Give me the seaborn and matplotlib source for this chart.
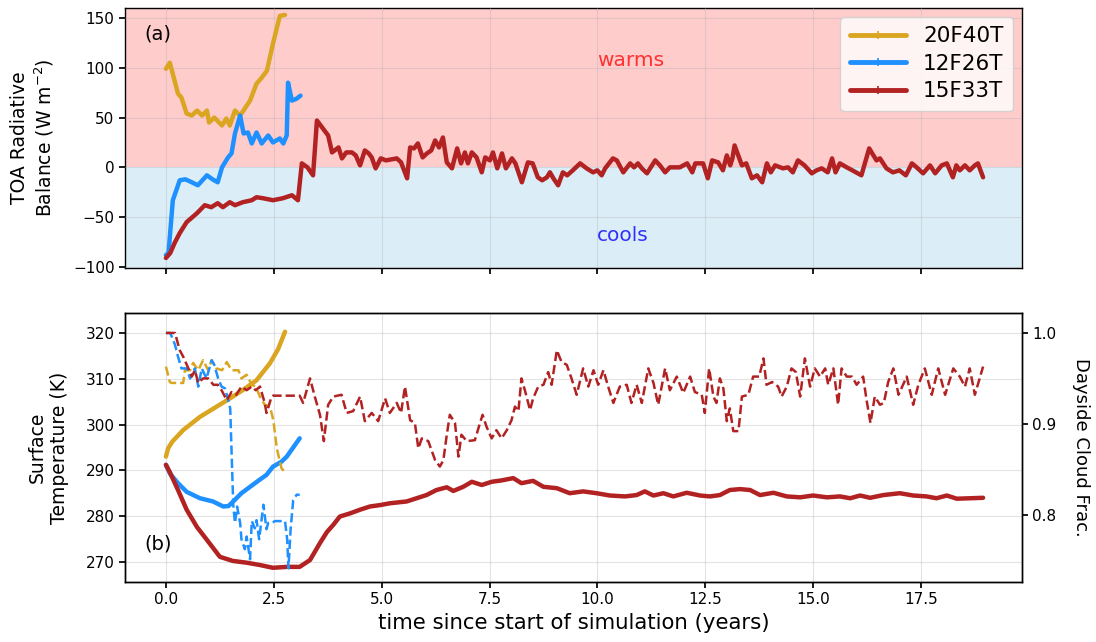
import matplotlib
matplotlib.use("Agg")
import matplotlib.pyplot as plt
from matplotlib.lines import Line2D
import seaborn as sns

# ---------------- data ----------------
runs = ["20F40T", "12F26T", "15F33T"]
colors = {"20F40T": "#DAA520", "12F26T": "#1E90FF", "15F33T": "#B22222"}

# (a) TOA radiative balance (W m-2)
toa_t_20F40T = [0.0, 0.09, 0.28, 0.36, 0.48, 0.6, 0.72, 0.84, 0.95, 1.0, 1.12, 1.3,
                1.4, 1.48, 1.6, 1.72, 1.95, 2.1, 2.22, 2.34, 2.48, 2.64, 2.76]
toa_20F40T = [99, 105, 74, 70, 54, 52, 57, 52, 57, 45, 50, 42,
              49, 42, 57, 52, 67, 84, 90, 97, 124, 152, 153]

toa_t_12F26T = [0.0, 0.06, 0.16, 0.32, 0.45, 0.6, 0.74, 0.95, 1.08, 1.2, 1.3, 1.44,
                1.52, 1.6, 1.72, 1.8, 1.9, 1.99, 2.1, 2.22, 2.37, 2.48, 2.64, 2.72,
                2.8, 2.83, 2.92, 3.03, 3.12]
toa_12F26T = [-88, -86, -33, -13, -12, -15, -18, -8, -12, -15, 0, 10,
              14, 34, 52, 34, 35, 24, 35, 24, 32, 25, 29, 24,
              32, 85, 67, 69, 72]

toa_t_15F33T = [0.0, 0.1, 0.2, 0.32, 0.48, 0.72, 0.9, 1.05, 1.2, 1.32,
                1.48, 1.6, 1.78, 1.99, 2.1, 2.25, 2.48, 2.71, 2.92, 3.06,
                3.15, 3.28, 3.41, 3.5, 3.62, 3.76, 3.85, 4.0, 4.08, 4.18,
                4.31, 4.4, 4.5, 4.61, 4.7, 4.77, 4.86, 4.98, 5.1, 5.35,
                5.45, 5.59, 5.66, 5.75, 5.84, 5.95, 6.05, 6.15, 6.24, 6.33,
                6.42, 6.51, 6.63, 6.75, 6.84, 6.93, 7.0, 7.09, 7.2, 7.32,
                7.4, 7.51, 7.58, 7.68, 7.79, 7.88, 8.02, 8.1, 8.25, 8.39,
                8.5, 8.62, 8.72, 8.83, 8.9, 8.98, 9.09, 9.2, 9.3, 9.43,
                9.6, 9.75, 9.9, 10.0, 10.1, 10.18, 10.36, 10.45, 10.6, 10.76,
                10.85, 10.94, 11.03, 11.15, 11.34, 11.45, 11.57, 11.68, 11.91, 12.08,
                12.2, 12.27, 12.45, 12.56, 12.66, 12.8, 12.91, 13.0, 13.08, 13.13,
                13.18, 13.35, 13.45, 13.58, 13.7, 13.82, 13.93, 14.02, 14.12, 14.3,
                14.42, 14.53, 14.65, 14.8, 14.97, 15.08, 15.2, 15.34, 15.44, 15.52,
                15.62, 15.78, 15.91, 16.12, 16.3, 16.47, 16.55, 16.7, 16.85, 17.0,
                17.15, 17.29, 17.4, 17.55, 17.71, 17.83, 17.98, 18.1, 18.24, 18.32,
                18.4, 18.52, 18.63, 18.75, 18.82, 18.94]
toa_15F33T = [-91, -86, -76, -66, -55, -46, -38, -40, -36, -40,
              -35, -38, -35, -33, -30, -31, -33, -31, -28, -33,
              4, 0, -8, 47, 40, 32, 15, 20, 9, 15,
              15, 12, 2, 17, 14, 10, -1, 9, 7, 9,
              5, -11, 20, 19, 24, 10, 14, 17, 27, 20,
              30, 5, -1, 19, 4, 15, 4, 15, 10, -5,
              10, 7, 15, -1, 14, -1, 9, 4, -15, 5,
              4, -10, -13, -10, -5, -11, -18, -5, -8, -3,
              4, -1, -5, -3, -8, -1, 9, 7, -5, 4,
              0, 4, -1, -6, 7, 2, -5, 0, 0, 4,
              -5, 4, 4, -11, 7, 5, -3, 12, 2, 9,
              22, 2, 4, -11, -8, -15, 4, -5, 2, -1,
              0, -5, 7, 2, -6, -3, -1, -5, 9, -5,
              4, 0, -3, -8, 19, 7, 9, -1, -5, -3,
              -8, 4, 0, -6, 2, -6, 2, 4, -10, 2,
              -3, 2, -3, 2, 4, -10]

# (b) surface temperature (K)
ts_t_20F40T = [0.0, 0.05, 0.15, 0.4, 0.79, 1.17, 1.48, 1.79, 2.1, 2.41, 2.6, 2.76]
ts_20F40T = [293.0, 294.8, 296.3, 298.8, 301.7, 303.9, 305.7, 307.6, 309.7, 313.4, 316.5, 320.3]

ts_t_12F26T = [0.0, 0.1, 0.28, 0.48, 0.79, 1.09, 1.33, 1.45, 1.56, 1.75, 1.95, 2.18,
               2.33, 2.48, 2.68, 2.8, 2.95, 3.1]
ts_12F26T = [291.2, 289.2, 287.2, 285.3, 283.9, 283.2, 282.1, 282.2, 283.2, 285.0, 286.4, 288.0,
             289.0, 290.8, 291.9, 293.0, 295.0, 297.0]

ts_t_15F33T = [0.0, 0.1, 0.28, 0.48, 0.72, 0.95, 1.25, 1.55, 1.88, 2.18,
               2.48, 2.8, 3.1, 3.34, 3.57, 3.73, 3.88, 4.03, 4.27, 4.5,
               4.73, 4.96, 5.19, 5.58, 5.81, 6.04, 6.27, 6.51, 6.66, 6.89,
               7.09, 7.32, 7.55, 7.78, 8.05, 8.24, 8.51, 8.75, 9.06, 9.36,
               9.67, 9.98, 10.29, 10.64, 10.91, 11.1, 11.3, 11.53, 11.76, 12.07,
               12.38, 12.61, 12.84, 13.07, 13.31, 13.54, 13.77, 14.08, 14.39, 14.7,
               15.0, 15.32, 15.62, 15.86, 16.09, 16.32, 16.63, 17.01, 17.32, 17.63,
               17.86, 18.1, 18.33, 18.64, 18.94]
ts_15F33T = [291.2, 289.4, 285.7, 281.4, 277.6, 274.8, 271.1, 270.2, 269.8, 269.3,
             268.7, 268.9, 268.9, 270.4, 274.1, 276.5, 278.1, 279.9, 280.6, 281.4,
             282.1, 282.4, 282.8, 283.2, 283.9, 284.6, 285.7, 286.3, 285.5, 286.4,
             287.5, 286.8, 287.5, 287.8, 288.3, 287.2, 287.7, 286.4, 286.1, 285.0,
             285.4, 285.0, 284.5, 284.3, 284.6, 285.4, 284.5, 285.0, 284.3, 285.1,
             284.5, 284.3, 284.6, 285.7, 285.9, 285.7, 284.6, 285.1, 284.3, 284.1,
             284.5, 284.1, 284.3, 283.9, 284.5, 284.0, 284.6, 285.0, 284.5, 284.3,
             283.9, 284.5, 283.8, 283.9, 284.0]

# (b) dayside cloud fraction
cf_t_20F40T = [0.0, 0.09, 0.13, 0.4, 0.44, 0.56, 0.63, 0.75, 0.86, 0.98,
               1.06, 1.17, 1.3, 1.41, 1.52, 1.68, 1.75, 1.87, 1.99, 2.08,
               2.18, 2.29, 2.41, 2.49, 2.57, 2.68, 2.74]
cf_20F40T = [0.963, 0.946, 0.945, 0.945, 0.959, 0.959, 0.967, 0.959, 0.970, 0.959,
             0.970, 0.961, 0.959, 0.968, 0.959, 0.959, 0.950, 0.954, 0.943, 0.941,
             0.930, 0.921, 0.919, 0.904, 0.873, 0.851, 0.848]

cf_t_12F26T = [0.0, 0.1, 0.21, 0.28, 0.36, 0.48, 0.56, 0.67, 0.75, 0.83,
               0.94, 1.06, 1.12, 1.21, 1.29, 1.37, 1.45, 1.49, 1.56, 1.6,
               1.65, 1.72, 1.75, 1.83, 1.87, 1.95, 1.99, 2.06, 2.1, 2.16,
               2.26, 2.33, 2.37, 2.45, 2.53, 2.68, 2.76, 2.81, 2.84, 2.89,
               2.95, 3.03, 3.1]
cf_12F26T = [1.0, 1.0, 0.987, 0.974, 0.961, 0.961, 0.950, 0.961, 0.941, 0.961,
             0.950, 0.970, 0.965, 0.950, 0.941, 0.939, 0.925, 0.917, 0.811, 0.791,
             0.809, 0.791, 0.773, 0.762, 0.776, 0.751, 0.793, 0.785, 0.794, 0.773,
             0.811, 0.784, 0.791, 0.791, 0.793, 0.793, 0.793, 0.773, 0.741, 0.784,
             0.816, 0.822, 0.822]

cf_t_15F33T = [0.0, 0.21, 0.32, 0.4, 0.52, 0.6, 0.67, 0.75, 0.86, 0.98,
               1.1, 1.2, 1.29, 1.41, 1.52, 1.63, 1.75, 1.87, 1.99, 2.08,
               2.18, 2.29, 2.33, 2.45, 2.48, 3.1, 3.18, 3.34, 3.45, 3.57,
               3.66, 3.76, 3.88, 4.07, 4.19, 4.34, 4.5, 4.61, 4.77, 4.92,
               5.08, 5.19, 5.35, 5.45, 5.54, 5.66, 5.77, 5.85, 5.93, 6.08,
               6.24, 6.35, 6.43, 6.51, 6.58, 6.7, 6.78, 6.85, 6.97, 7.16,
               7.28, 7.34, 7.43, 7.55, 7.66, 7.78, 7.9, 8.01, 8.09, 8.17,
               8.24, 8.32, 8.44, 8.51, 8.63, 8.75, 8.86, 8.94, 9.06, 9.17,
               9.29, 9.4, 9.52, 9.67, 9.79, 9.91, 10.02, 10.14, 10.25, 10.37,
               10.52, 10.68, 10.79, 10.91, 11.03, 11.18, 11.3, 11.41, 11.57, 11.68,
               11.84, 11.99, 12.15, 12.26, 12.42, 12.49, 12.59, 12.69, 12.76, 12.84,
               12.92, 13.0, 13.07, 13.15, 13.27, 13.35, 13.5, 13.61, 13.75, 13.85,
               13.92, 14.05, 14.19, 14.27, 14.39, 14.5, 14.6, 14.7, 14.81, 14.93,
               15.04, 15.16, 15.28, 15.35, 15.47, 15.58, 15.66, 15.78, 15.9, 16.01,
               16.16, 16.24, 16.33, 16.43, 16.55, 16.64, 16.74, 16.86, 16.98, 17.17,
               17.32, 17.44, 17.59, 17.75, 17.9, 18.06, 18.25, 18.4, 18.52, 18.63,
               18.75, 18.94]
cf_15F33T = [1.0, 1.0, 0.981, 0.974, 0.961, 0.952, 0.959, 0.945, 0.950, 0.950,
             0.943, 0.943, 0.937, 0.926, 0.935, 0.932, 0.941, 0.937, 0.941, 0.937,
             0.941, 0.923, 0.912, 0.930, 0.931, 0.931, 0.923, 0.950, 0.930, 0.910,
             0.881, 0.921, 0.930, 0.932, 0.912, 0.914, 0.930, 0.903, 0.912, 0.903,
             0.928, 0.912, 0.923, 0.912, 0.941, 0.904, 0.901, 0.873, 0.884, 0.881,
             0.860, 0.853, 0.860, 0.888, 0.910, 0.901, 0.864, 0.888, 0.881, 0.882,
             0.901, 0.910, 0.897, 0.884, 0.893, 0.884, 0.893, 0.904, 0.919, 0.914,
             0.950, 0.937, 0.915, 0.928, 0.941, 0.943, 0.957, 0.943, 0.981, 0.968,
             0.965, 0.950, 0.932, 0.961, 0.941, 0.959, 0.943, 0.959, 0.941, 0.923,
             0.941, 0.943, 0.923, 0.943, 0.923, 0.961, 0.945, 0.921, 0.961, 0.937,
             0.952, 0.934, 0.952, 0.935, 0.932, 0.912, 0.961, 0.930, 0.923, 0.950,
             0.939, 0.903, 0.917, 0.892, 0.892, 0.930, 0.932, 0.952, 0.952, 0.972,
             0.943, 0.946, 0.941, 0.930, 0.941, 0.961, 0.957, 0.930, 0.972, 0.941,
             0.961, 0.952, 0.961, 0.943, 0.961, 0.921, 0.961, 0.952, 0.952, 0.943,
             0.952, 0.926, 0.901, 0.930, 0.921, 0.923, 0.946, 0.961, 0.932, 0.952,
             0.921, 0.943, 0.961, 0.932, 0.961, 0.932, 0.961, 0.952, 0.941, 0.961,
             0.932, 0.963]

xticks = [0.0, 2.5, 5.0, 7.5, 10.0, 12.5, 15.0, 17.5]

toa = {"20F40T": (toa_t_20F40T, toa_20F40T), "12F26T": (toa_t_12F26T, toa_12F26T),
       "15F33T": (toa_t_15F33T, toa_15F33T)}
tsurf = {"20F40T": (ts_t_20F40T, ts_20F40T), "12F26T": (ts_t_12F26T, ts_12F26T),
         "15F33T": (ts_t_15F33T, ts_15F33T)}
cloud = {"20F40T": (cf_t_20F40T, cf_20F40T), "12F26T": (cf_t_12F26T, cf_12F26T),
         "15F33T": (cf_t_15F33T, cf_15F33T)}

# ---------------- style ----------------
sns.set_theme(context="notebook", style="ticks")
plt.rcParams.update({
    "font.family": ["DejaVu Sans"],
    "text.color": "black",
    "axes.labelcolor": "black",
    "xtick.color": "black",
    "ytick.color": "black",
    "axes.edgecolor": "black",
    "axes.linewidth": 1.0,
    "xtick.labelsize": 11,
    "ytick.labelsize": 11,
    "xtick.direction": "out",
    "ytick.direction": "out",
    "xtick.major.size": 4,
    "ytick.major.size": 4,
})

fig = plt.figure(figsize=(10.96, 6.42), dpi=100)
ax1 = fig.add_axes([0.114, 0.5826, 0.8184, 0.405])
ax2 = fig.add_axes([0.114, 0.0935, 0.8184, 0.419])
ax2r = ax2.twinx()

xlim = (-0.95, 19.84)

# ---- (a) TOA balance ----
ax1.axhspan(0, 170, color="#ffcccc", zorder=0, lw=0)
ax1.axhspan(-120, 0, color="#dbeef7", zorder=0, lw=0)
for run in runs:
    t, v = toa[run]
    sns.lineplot(x=t, y=v, ax=ax1, color=colors[run], lw=3.2, sort=False,
                 estimator=None, zorder=3)
ax1.set_xlim(*xlim)
ax1.set_ylim(-101, 160)
ax1.set_yticks([-100, -50, 0, 50, 100, 150])
ax1.set_xticks(xticks)
ax1.tick_params(labelbottom=False)
ax1.grid(True, color="#b0b0b0", alpha=0.35, lw=0.8, zorder=1)
ax1.set_axisbelow(False)
ax1.set_ylabel("TOA Radiative\nBalance (W m$^{-2}$)", fontsize=13.5, labelpad=12)
ax1.text(0.022, 0.9, "(a)", transform=ax1.transAxes, fontsize=14, va="center")
ax1.text(10.0, 107, "warms", color="#ff3030", fontsize=14.5, va="center")
ax1.text(10.0, -68, "cools", color="#3030ff", fontsize=14.5, va="center")

handles = [Line2D([0], [0], color=colors[r], lw=3.5, marker="|", markersize=6, mew=1.2)
           for r in runs]
leg = ax1.legend(handles, runs, loc="upper right", fontsize=15.5, frameon=True,
                 handlelength=2.6, borderpad=0.45, labelspacing=0.35,
                 borderaxespad=0.4)
leg.get_frame().set_edgecolor("#cccccc")

# ---- (b) surface temperature and cloud fraction ----
for run in runs:
    t, v = tsurf[run]
    sns.lineplot(x=t, y=v, ax=ax2, color=colors[run], lw=3.2, sort=False,
                 estimator=None, zorder=3)
    t, v = cloud[run]
    sns.lineplot(x=t, y=v, ax=ax2r, color=colors[run], lw=1.8, sort=False,
                 estimator=None, linestyle="--", zorder=3)

ax2.set_xlim(*xlim)
ax2.set_ylim(265.6, 324.4)
ax2.set_yticks([270, 280, 290, 300, 310, 320])
ax2.set_xticks(xticks)
ax2.set_xticklabels([f"{x:.1f}" for x in xticks])
ax2.grid(True, color="#b0b0b0", alpha=0.35, lw=0.8)
ax2.set_ylabel("Surface\nTemperature (K)", fontsize=13.5, labelpad=12)
ax2.set_xlabel("time since start of simulation (years)", fontsize=15.3)
ax2.text(0.022, 0.14, "(b)", transform=ax2.transAxes, fontsize=14, va="center")

ax2r.set_ylim(0.726, 1.022)
ax2r.set_yticks([0.8, 0.9, 1.0])
ax2r.set_yticklabels(["0.8", "0.9", "1.0"])
ax2r.grid(False)
ax2r.set_ylabel("Dayside Cloud Frac.", fontsize=13, rotation=270, labelpad=24)
for a in (ax1, ax2, ax2r):
    for s in a.spines.values():
        s.set_visible(True)
        s.set_color("black")

fig.savefig("out.png", dpi=100)
